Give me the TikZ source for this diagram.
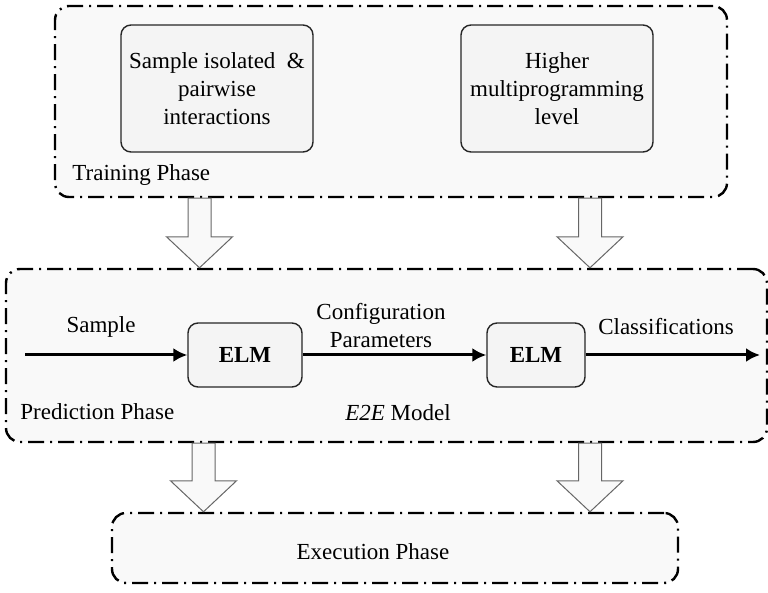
\documentclass[tikz,border=0pt]{standalone}
\usepackage{fontspec}
\setmainfont{Liberation Serif}
\usetikzlibrary{calc,arrows.meta,positioning}

\tikzset{
  phase/.style={draw=black, line width=1.2pt, dash pattern=on 8pt off 3pt on 1pt off 3pt, rounded corners=7pt, fill=gray!5},
  inbox/.style={draw=black!85, line width=0.7pt, rounded corners=5pt, fill=gray!9, align=center, inner sep=0pt},
  elm/.style={inbox, font=\fontsize{11.5}{14}\selectfont\bfseries},
  flow/.style={line width=1.5pt, -{Latex[length=7pt,width=7pt]}},
  lbl/.style={inner sep=0pt, align=center},
  fat/.style={draw=black!60, fill=gray!5, line width=0.5pt}
}

% block arrow at x = #1, from the bottom of #2 down to the top of #3
\newcommand{\fatarrow}[3]{\coordinate (fa) at (#1,0);
  \filldraw[fat] ($(fa |- #2.south)+(-5.75pt,0)$) -- ($(fa |- #3.north)+(-5.75pt,15.5pt)$) -- ($(fa |- #3.north)+(-16.5pt,15.5pt)$) -- (fa |- #3.north) -- ($(fa |- #3.north)+(16.5pt,15.5pt)$) -- ($(fa |- #3.north)+(5.75pt,15.5pt)$) -- ($(fa |- #2.south)+(5.75pt,0)$) -- cycle;}

\begin{document}
\begin{tikzpicture}[x=0.5pt, y=-0.5pt, font=\fontsize{11.5}{14}\selectfont]
        \useasboundingbox (0,0) rectangle (768,593);
        % training
        \node[phase, minimum width=336pt, minimum height=95.5pt] (train) at (391,101.5) {};
        \node[inbox, minimum width=96pt, minimum height=63.5pt] (isolated) at (217,88.5) {Sample isolated~ \&\\pairwise\\interactions};
        \node[inbox, minimum width=96pt, minimum height=63.5pt] (higher) at (557,88.5) {Higher\\multiprogramming\\level};
        \node[lbl, anchor=west] (trainlbl) at (72,175) {Training Phase};
        % prediction
        \node[phase, minimum width=380.5pt, minimum height=86.5pt] (pred) at (386.5,355.5) {};
        \node[elm, minimum width=57pt, minimum height=32pt] (elma) at (245,355) {ELM};
        \node[elm, minimum width=49pt, minimum height=32pt] (elmb) at (536,355) {ELM};
        \coordinate (in) at (25,355);
        \coordinate (out) at (760,355);
        \draw[flow] (in) -- (elma);
        \draw[flow] (elma) -- (elmb);
        \draw[flow] (elmb) -- (out);
        \node[lbl] (samplelbl) at (101,327) {Sample};
        \node[lbl] (configlbl) at (381,326) {Configuration\\Parameters};
        \node[lbl] (classlbl) at (666,327) {Classifications};
        \node[lbl, anchor=west] (predlbl) at (20,412) {Prediction Phase};
        \node[lbl] (modellbl) at (398,413) {\textit{E2E} Model};
        % execution
        \node[phase, minimum width=283pt, minimum height=35pt] (exec) at (395,548) {};
        \node[lbl] (execlbl) at (373,552) {Execution Phase};
        % block arrows
        \fatarrow{199.5}{train}{pred}
        \fatarrow{590}{train}{pred}
        \fatarrow{203.5}{pred}{exec}
        \fatarrow{590}{pred}{exec}
    \end{tikzpicture}
\end{document}
